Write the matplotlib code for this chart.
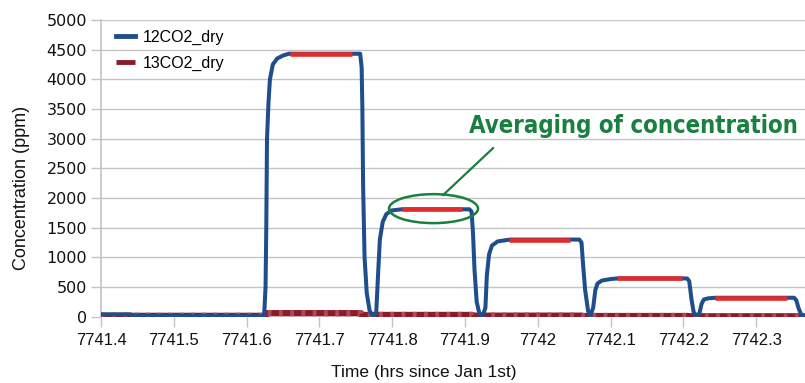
import matplotlib
matplotlib.use("Agg")
import matplotlib.pyplot as plt
from matplotlib.patches import Ellipse

# ---- data ----
t12 = [7741.400, 7741.440, 7741.447, 7741.550, 7741.600, 7741.624, 7741.626, 7741.627,
       7741.628, 7741.630, 7741.632, 7741.636, 7741.642, 7741.650, 7741.658, 7741.700,
       7741.756, 7741.758, 7741.759, 7741.760, 7741.762, 7741.765, 7741.769, 7741.774,
       7741.778, 7741.7805, 7741.783, 7741.787, 7741.792, 7741.799, 7741.813, 7741.860,
       7741.906, 7741.909, 7741.911, 7741.913, 7741.916, 7741.920, 7741.924, 7741.928,
       7741.930, 7741.933, 7741.937, 7741.945, 7741.962, 7742.000, 7742.057, 7742.060,
       7742.062, 7742.065, 7742.069, 7742.072, 7742.076, 7742.079, 7742.082, 7742.088,
       7742.100, 7742.109, 7742.150, 7742.205, 7742.208, 7742.211, 7742.214, 7742.218,
       7742.222, 7742.225, 7742.228, 7742.234, 7742.244, 7742.300, 7742.352, 7742.355,
       7742.358, 7742.362, 7742.367]
c12 = [40, 40, 15, 10, 10, 5, 500, 1500,
       3000, 3600, 4000, 4250, 4350, 4400, 4430, 4430,
       4430, 4200, 3500, 2200, 1000, 400, 100, 0,
       60, 700, 1300, 1600, 1730, 1790, 1810, 1810,
       1810, 1770, 1400, 800, 250, 40, 10, 150,
       700, 1050, 1200, 1270, 1300, 1300, 1300, 1250,
       900, 450, 100, 10, 150, 450, 560, 610,
       635, 645, 645, 645, 600, 300, 80, 10,
       60, 220, 290, 310, 320, 320, 320, 280,
       150, 30, 0]

t13 = [7741.400, 7741.626, 7741.627, 7741.757, 7741.758, 7741.910, 7741.911, 7742.060,
       7742.061, 7742.207, 7742.208, 7742.367]
c13 = [15, 15, 60, 60, 30, 30, 18, 18,
       12, 12, 8, 8]

avg_start = [7741.6596, 7741.8135, 7741.9604, 7742.1088, 7742.2434]
avg_end = [7741.7448, 7741.8960, 7742.0442, 7742.1980, 7742.3423]
avg_value = [4430, 1810, 1300, 645, 320]

xticks = [7741.4, 7741.5, 7741.6, 7741.7, 7741.8, 7741.9, 7742.0, 7742.1, 7742.2, 7742.3]
xtick_labels = ["7741.4", "7741.5", "7741.6", "7741.7", "7741.8", "7741.9", "7742",
                "7742.1", "7742.2", "7742.3"]
yticks = list(range(0, 5001, 500))

BLUE = "#1f4e8c"
DARKRED = "#8b1a2b"
RED = "#e32b2b"
GREEN = "#1a8040"
GRID = "#c4c4c4"

fig = plt.figure(figsize=(8.05, 3.83), dpi=100)
ax = fig.add_axes([0.1255, 0.173, 0.8745, 0.775])

ax.plot(t13, c13, color=DARKRED, lw=4.5, solid_capstyle="butt", label="13CO2_dry", zorder=3)
ax.plot(t13, c13, color="#b04a58", lw=4.5, dashes=(0.6, 1.2), dash_capstyle="butt", zorder=3)
ax.plot(t12, c12, color=BLUE, lw=2.9, solid_joinstyle="round", label="12CO2_dry", zorder=4)
for s, e, v in zip(avg_start, avg_end, avg_value):
    ax.plot([s, e], [v, v], color=RED, lw=3.3, solid_capstyle="butt", zorder=5)

ax.set_xlim(7741.4, 7742.367)
ax.set_ylim(0, 5000)
ax.set_xticks(xticks)
ax.set_xticklabels(xtick_labels, family="Liberation Sans", fontsize=12)
ax.set_yticks(yticks)
ax.set_yticklabels([str(v) for v in yticks], family="DejaVu Sans", fontsize=11.5)
ax.yaxis.grid(True, color=GRID, lw=1.0)
ax.set_axisbelow(True)
for sp in ["top", "right", "bottom"]:
    ax.spines[sp].set_visible(False)
ax.spines["left"].set_color(GRID)
ax.spines["left"].set_linewidth(1.2)
ax.tick_params(axis="both", length=7, width=1.0, color=GRID, pad=3, labelcolor="#111111")
ax.tick_params(axis="x", pad=5)

fig.text(423.7 / 805, 1 - 373 / 383, "Time (hrs since Jan 1st)", family="Liberation Sans",
         fontsize=12.5, ha="center", va="center", color="#111111")
fig.text(21 / 805, 1 - 187.5 / 383, "Concentration (ppm)", family="Liberation Sans",
         fontsize=13, ha="center", va="center", rotation=90, color="#111111")

handles, labels = ax.get_legend_handles_labels()
leg = ax.legend(handles[::-1], labels[::-1], loc="upper left", bbox_to_anchor=(0.0213, 0.968),
                frameon=False, prop={"family": "Liberation Sans", "size": 11.5},
                handlelength=1.19, handletextpad=0.5, labelspacing=0.69,
                borderaxespad=0.0, borderpad=0.0)
for h in leg.get_lines():
    h.set_linewidth(3.5)

ell = Ellipse((7741.8567, 1821), 0.1223, 488, fill=False, edgecolor=GREEN, lw=1.8, zorder=6)
ax.add_patch(ell)
ax.plot([7741.8698, 7741.9385], [2049, 2840], color=GREEN, lw=1.6, zorder=6)
ax.text(7741.9055, 3090, "Averaging of concentration", color=GREEN, fontsize=17.2,
        fontweight="bold", fontstretch="condensed", family="DejaVu Sans",
        ha="left", va="baseline", zorder=6)

fig.savefig("out.png", dpi=100)
